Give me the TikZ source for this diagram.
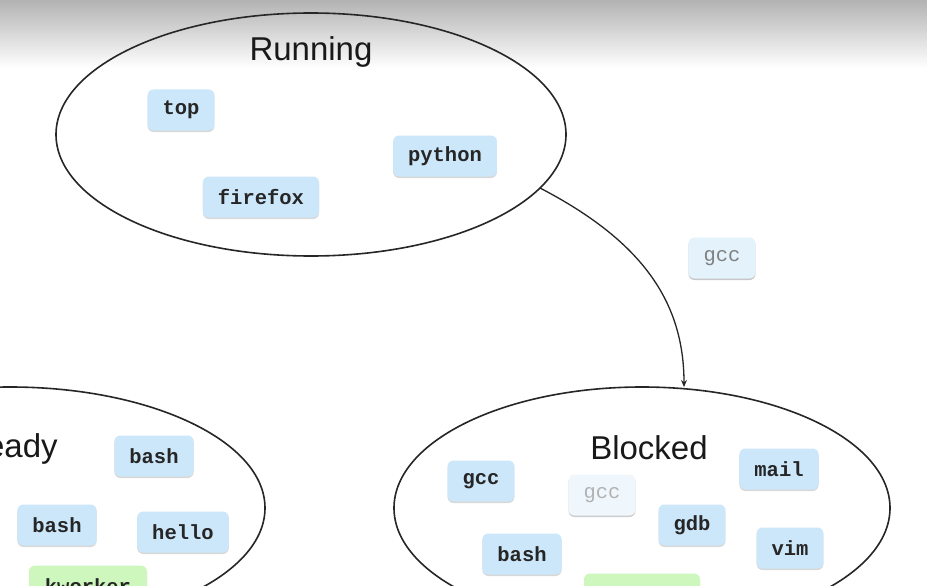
\documentclass[tikz,border=0pt]{standalone}
\usepackage{fontspec}
\setmainfont{Liberation Sans}
\newfontfamily\boxfont{Liberation Mono}
\usetikzlibrary{shadows,arrows.meta}
\definecolor{boxblue}{HTML}{CCE7FA}
\definecolor{boxgreen}{HTML}{CDF7BD}
\definecolor{fadeblue}{HTML}{E4F2FC}
\definecolor{linegray}{HTML}{262626}
\tikzset{
  procbox/.style={rounded corners=6pt, fill=boxblue, minimum height=41pt, inner xsep=15pt,
    font=\boxfont\bfseries\fontsize{20.5}{24}\selectfont, text=black!85,
    drop shadow={shadow xshift=0pt, shadow yshift=-1.5pt, opacity=0.25, fill=black!60}},
  greenbox/.style={procbox, fill=boxgreen},
  fadedbox/.style={procbox, fill=fadeblue, text=black!50, font=\boxfont\fontsize{20.5}{24}\selectfont,
    drop shadow={shadow xshift=0pt, shadow yshift=-1.5pt, opacity=0.08, fill=black}},
  ghostbox/.style={procbox, fill=fadeblue!60, text=black!30, font=\boxfont\fontsize{20.5}{24}\selectfont,
    drop shadow={shadow xshift=0pt, shadow yshift=-1.5pt, opacity=0.05, fill=black}},
  statering/.style={draw=linegray, line width=1.6pt},
  statelabel/.style={font=\fontsize{33}{36}\selectfont, text=black!90},
}
\begin{document}
\begin{tikzpicture}[x=1pt,y=-1pt]
\useasboundingbox (0,0) rectangle (927,586);
\clip (0,0) rectangle (927,586);
\fill[white] (0,0) rectangle (927,586);
\shade[top color=black!30, bottom color=white] (0,0) rectangle (927,68);
% state ellipses
\draw[statering] (311,134.5) ellipse [x radius=255, y radius=121.5];
\draw[statering] (10,508) ellipse [x radius=255, y radius=121];
\draw[statering] (642,508) ellipse [x radius=248, y radius=121];
\coordinate (runout) at (540,188);
\coordinate (blockin) at (684,387);
% labels
\node[statelabel] (lrun) at (311,52) {Running};
\node[statelabel] (lready) at (10,449) {Ready};
\node[statelabel] (lblock) at (649,448) {Blocked};
% Running
\node[procbox] (ptop) at (181,110) {top};
\node[procbox] (ppython) at (445,156) {python};
\node[procbox] (pfirefox) at (261,197) {firefox};
% moving gcc
\node[fadedbox] (pgccmove) at (722,258) {gcc};
% Ready
\node[procbox] (pbash1) at (154,456) {bash};
\node[procbox] (pbash2) at (57,525) {bash};
\node[procbox] (phello) at (183,532) {hello};
\node[greenbox, minimum width=118pt] (pkworker) at (88,586) {kworker};
% Blocked
\node[procbox] (pgcc) at (481,481) {gcc};
\node[ghostbox] (pgccghost) at (602,495) {gcc};
\node[procbox] (pmail) at (779,469) {mail};
\node[procbox] (pgdb) at (692,525) {gdb};
\node[procbox] (pvim) at (790,548) {vim};
\node[procbox] (pbash3) at (522,554) {bash};
\node[greenbox, minimum width=116pt] (pgreen) at (642,594) {\phantom{x}};
% transition
\draw[linegray, line width=1.3pt, -{Stealth[length=7pt,width=6pt]}] (runout) .. controls (640,240) and (684,300) .. (blockin);
\end{tikzpicture}
\end{document}
